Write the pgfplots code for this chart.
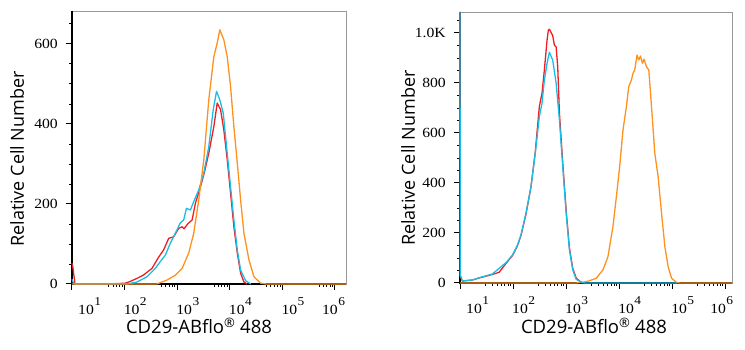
\documentclass[border=0pt]{standalone}
\usepackage{pgfplots}
\pgfplotsset{compat=1.18}
\usepackage{fontspec}
\setmainfont{Liberation Serif}
\newfontfamily\tickfont[FakeStretch=1.12]{Liberation Serif}
\newfontfamily\labfont{Open Sans}
\definecolor{cred}{RGB}{240,30,35}
\definecolor{ccyan}{RGB}{25,190,230}
\definecolor{corange}{RGB}{255,145,30}
\newcommand\dec[1]{10\hspace{0.5pt}\raisebox{9pt}{\fontsize{12}{12}\selectfont #1}}
\pgfplotsset{flow/.style={
  scale only axis, anchor=south west, clip=false,
  /pgf/number format/assume math mode=true,
  xtick={1,2,3,4,5,6},
  xtick pos=bottom, ytick pos=left,
  tick align=outside,
  major tick length=6pt, minor tick length=3pt,
  major tick style={black, line width=1pt},
  minor tick style={black, line width=0.7pt},
  axis line style={gray!80, line width=0.6pt},
  xticklabel style={font=\tickfont\fontsize{14}{14}\selectfont, anchor=north west, inner sep=0pt, xshift=-1pt, yshift=-7pt},
  yticklabel style={font=\tickfont\fontsize{14}{14}\selectfont, anchor=east, inner sep=0pt, xshift=-8pt},
  ylabel style={font=\labfont\fontsize{18}{20}\selectfont},
  xlabel style={font=\labfont\fontsize{18.5}{20}\selectfont},
  ylabel={Relative Cell Number},
  xlabel={CD29-ABflo\textsuperscript{®} 488},
  every axis plot/.append style={line width=1.3pt, line join=round, mark=none},
}}
\begin{document}
\begin{tikzpicture}
\useasboundingbox (0,0) rectangle (745pt,350pt);
% ---------------- left panel
\begin{axis}[flow, at={(72pt,66pt)}, width=274pt, height=273pt,
  xmin=1, xmax=6.21, ymin=0, ymax=682,
  xticklabels={\hspace*{7pt}\dec{1},\dec{2},\dec{3},\dec{4},\dec{5},\hspace*{-12pt}\dec{6}},
  minor xtick={1.699,1.778,1.845,1.903,1.954,2.699,2.778,2.845,2.903,2.954,3.699,3.778,3.845,3.903,3.954,4.699,4.778,4.845,4.903,4.954,5.699,5.778,5.845,5.903,5.954},
  ytick={0,200,400,600}, yticklabels={0,200,400,600},
  minor ytick={50,100,150,250,300,350,450,500,550,650},
  ylabel style={at={(axis description cs:-0.2,0.458)}, anchor=center},
  xlabel style={at={(axis description cs:0.4635,-0.183)}, anchor=base},
]
\draw[black, line width=1.2pt] (rel axis cs:0,1) -- (rel axis cs:0,0) -- (rel axis cs:1,0);
\addplot[cred] coordinates {(1.0,52) (1.013,45) (1.057,0) (1.687,0) (2.011,2) (2.1,6) (2.235,14) (2.355,22) (2.521,39) (2.647,67) (2.742,85) (2.838,114) (2.933,118) (3.029,139) (3.094,143) (3.13,138) (3.2,150) (3.284,160) (3.347,202) (3.443,243) (3.52,280) (3.601,327) (3.697,393) (3.761,452) (3.824,436) (3.887,385) (3.952,310) (4.015,227) (4.078,143) (4.143,77) (4.206,27) (4.269,5) (4.33,0)};
\addplot[ccyan] coordinates {(1.0,12) (1.02,5) (1.05,0) (2.05,0) (2.235,5) (2.426,18) (2.584,39) (2.679,56) (2.775,72) (2.870,102) (2.966,127) (3.061,153) (3.124,160) (3.176,189) (3.252,185) (3.315,206) (3.410,235) (3.506,277) (3.601,343) (3.685,435) (3.748,481) (3.811,460) (3.876,427) (3.939,343) (4.015,243) (4.078,160) (4.143,85) (4.206,35) (4.302,8) (4.40,0)};
\addplot[corange] coordinates {(1.0,0) (2.616,0) (2.807,10) (2.966,22) (3.094,39) (3.219,77) (3.315,127) (3.410,210) (3.506,310) (3.601,460) (3.697,568) (3.761,602) (3.811,635) (3.887,610) (3.952,568) (4.015,493) (4.078,393) (4.143,302) (4.206,210) (4.269,127) (4.365,60) (4.460,18) (4.588,2) (4.7,0) (6.21,0)};
\end{axis}
% ---------------- right panel
\begin{axis}[flow, at={(460pt,67pt)}, width=272pt, height=271pt,
  xmin=1, xmax=6.13, ymin=0, ymax=1084,
  xticklabels={\hspace*{7pt}\dec{1},\dec{2},\dec{3},\dec{4},\dec{5},\hspace*{-14pt}\dec{6}},
  minor xtick={1.477,1.602,1.699,1.778,1.845,1.903,1.954,2.477,2.602,2.699,2.778,2.845,2.903,2.954,3.477,3.602,3.699,3.778,3.845,3.903,3.954,4.477,4.602,4.699,4.778,4.845,4.903,4.954,5.477,5.602,5.699,5.778,5.845,5.903,5.954},
  ytick={0,200,400,600,800,1000}, yticklabels={0,200,400,600,800,1.0K},
  minor ytick={50,100,150,250,300,350,450,500,550,650,700,750,850,900,950,1050},
  ylabel style={at={(axis description cs:-0.191,0.461)}, anchor=center},
  xlabel style={at={(axis description cs:0.4926,-0.188)}, anchor=base},
]
\draw[black, line width=1.2pt] (rel axis cs:0,1) -- (rel axis cs:0,0) -- (rel axis cs:1,0);
\addplot[corange] coordinates {(1.0,0) (3.191,0) (3.316,3) (3.443,9) (3.570,19) (3.695,52) (3.790,105) (3.884,225) (3.949,345) (4.011,465) (4.074,612) (4.138,705) (4.182,785) (4.233,812) (4.263,839) (4.295,852) (4.339,912) (4.371,892) (4.403,908) (4.441,879) (4.472,895) (4.517,865) (4.561,852) (4.612,705) (4.674,519) (4.737,425) (4.801,279) (4.864,145) (4.926,65) (4.990,19) (5.085,2) (5.148,0) (6.13,0)};
\addplot[cred] coordinates {(1.0,1084) (1.005,30) (1.044,8) (1.233,12) (1.36,20) (1.612,34) (1.739,43) (1.866,78) (1.991,110) (2.085,150) (2.150,190) (2.244,275) (2.339,385) (2.420,525) (2.496,705) (2.547,760) (2.591,852) (2.642,972) (2.667,1012) (2.686,1015) (2.723,1000) (2.748,990) (2.780,952) (2.813,944) (2.843,865) (2.875,680) (2.938,480) (3.002,290) (3.064,140) (3.127,58) (3.191,20) (3.254,8) (3.316,0)};
\addplot[ccyan] coordinates {(1.0,1084) (1.005,30) (1.044,8) (1.233,12) (1.36,21) (1.612,36) (1.739,59) (1.866,81) (1.991,112) (2.085,152) (2.150,192) (2.244,279) (2.339,385) (2.420,519) (2.496,665) (2.547,719) (2.591,812) (2.642,879) (2.686,923) (2.748,892) (2.813,799) (2.875,652) (2.938,465) (3.002,279) (3.064,132) (3.127,52) (3.191,15) (3.286,3) (3.35,0) (5.1,0)};
\end{axis}
\end{tikzpicture}
\end{document}
